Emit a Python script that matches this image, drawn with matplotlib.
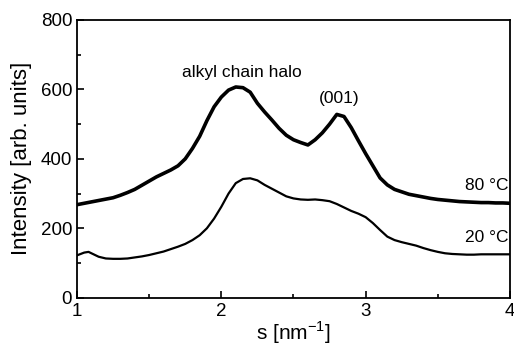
import matplotlib
matplotlib.use("Agg")
import matplotlib.pyplot as plt
from matplotlib.ticker import MultipleLocator

plt.rcParams['font.family'] = ['Liberation Sans', 'DejaVu Sans']

s_80 = [1.00, 1.05, 1.10, 1.15, 1.20, 1.25, 1.30, 1.35, 1.40, 1.45, 1.50, 1.55, 1.60, 1.65,
        1.70, 1.75, 1.80, 1.85, 1.90, 1.95, 2.00, 2.05, 2.10, 2.15, 2.20, 2.25, 2.30, 2.35,
        2.40, 2.45, 2.50, 2.55, 2.60, 2.65, 2.70, 2.75, 2.80, 2.85, 2.90, 2.95, 3.00, 3.05,
        3.10, 3.15, 3.20, 3.25, 3.30, 3.35, 3.40, 3.45, 3.50, 3.55, 3.60, 3.65, 3.70, 3.75,
        3.80, 3.85, 3.90, 3.95, 4.00]
i_80 = [268, 272, 276, 280, 284, 288, 295, 303, 312, 324, 336, 348, 358, 368,
        380, 400, 430, 465, 510, 550, 578, 598, 607, 605, 592, 560, 535, 512,
        488, 468, 455, 447, 440, 455, 475, 500, 528, 522, 490, 452, 415, 380,
        345, 325, 312, 305, 298, 294, 290, 286, 283, 281, 279, 277, 276, 275,
        274, 274, 273, 273, 272]

s_20 = [1.00, 1.05, 1.08, 1.10, 1.15, 1.20, 1.25, 1.30, 1.35, 1.40, 1.45, 1.50, 1.55, 1.60,
        1.65, 1.70, 1.75, 1.80, 1.85, 1.90, 1.95, 2.00, 2.05, 2.10, 2.15, 2.20, 2.25, 2.30,
        2.35, 2.40, 2.45, 2.50, 2.55, 2.60, 2.65, 2.70, 2.75, 2.80, 2.85, 2.90, 2.95, 3.00,
        3.05, 3.10, 3.15, 3.20, 3.25, 3.30, 3.35, 3.40, 3.45, 3.50, 3.55, 3.60, 3.65, 3.70,
        3.75, 3.80, 3.85, 3.90, 3.95, 4.00]
i_20 = [122, 130, 132, 128, 118, 113, 112, 112, 113, 116, 119, 123, 128, 133,
        140, 147, 155, 166, 180, 200, 228, 262, 300, 330, 342, 344, 338, 325,
        314, 303, 292, 286, 283, 282, 283, 281, 278, 270, 260, 250, 242, 232,
        215, 195, 176, 166, 160, 155, 150, 143, 137, 132, 128, 126, 125, 124,
        124, 125, 125, 125, 125, 125]

fig = plt.figure(figsize=(5.14, 3.5), dpi=100)
ax = fig.add_axes([0.1498, 0.1494, 0.8424, 0.7935])

ax.plot(s_80, i_80, color='black', lw=2.6, solid_joinstyle='round')
ax.plot(s_20, i_20, color='black', lw=1.6, solid_joinstyle='round')

ax.set_xlim(1, 4)
ax.set_ylim(0, 800)
ax.xaxis.set_major_locator(MultipleLocator(1))
ax.xaxis.set_minor_locator(MultipleLocator(0.5))
ax.yaxis.set_major_locator(MultipleLocator(200))
ax.yaxis.set_minor_locator(MultipleLocator(100))
ax.tick_params(which='both', direction='in', top=False, right=False, labelsize=13.5, width=1.2)
ax.tick_params(which='major', length=5)
ax.tick_params(which='minor', length=3)
for sp in ax.spines.values():
    sp.set_linewidth(1.3)

ax.set_xlabel('s [nm$^{\\mathregular{-1}}$]', fontsize=15, labelpad=0)
ax.set_ylabel('Intensity [arb. units]', fontsize=16, labelpad=6)

ax.text(2.14, 649, 'alkyl chain halo', fontsize=12.5, ha='center', va='center')
ax.text(2.82, 574, '(001)', fontsize=12.5, ha='center', va='center')
ax.text(3.99, 324, '80 °C', fontsize=12.5, ha='right', va='center')
ax.text(3.99, 174, '20 °C', fontsize=12.5, ha='right', va='center')

fig.savefig('out.png', dpi=100)
